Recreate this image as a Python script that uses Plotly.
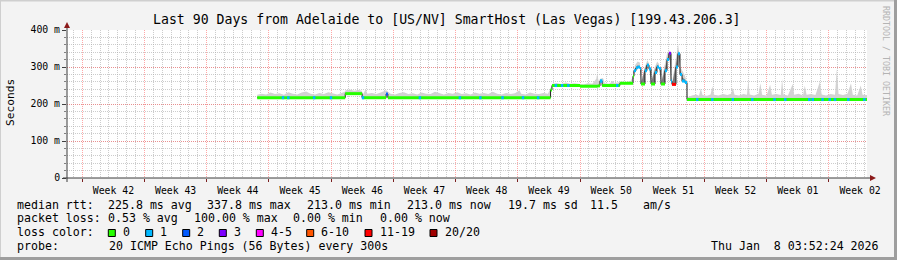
import numpy as np
import pandas as pd
import plotly.graph_objects as go

MONO = "DejaVu Sans Mono"
START = pd.Timestamp("2025-10-11 06:43:00")
SPAN_DAYS = 90
FIRST_MONDAY = "2025-10-13"

# ---- median RTT (step series): day offset from START, ms, lost pings ----
med_day = [21.4, 31.3, 33.2, 35.9, 36.1, 54.4, 54.56, 57.71, 59.7, 59.96, 60.2, 62.2,
           63.67, 63.78, 64.01, 64.23, 64.46, 64.57, 65.02, 65.24, 65.47, 65.70, 66.15,
           66.37, 66.60, 66.82, 67.27, 67.50, 67.72, 67.95, 68.06, 68.51, 68.74, 68.96,
           69.19, 69.52, 69.75, 90.0]
med_ms = [217, 228, 217, 227, 217, 238, 250, 248, 249, 262, 250, 256,
          275, 290, 298, 300, 296, 254, 290, 305, 295, 254, 285,
          300, 296, 254, 290, 320, 337, 262, 253, 300, 336, 280,
          262, 258, 212, 212]
med_loss = [0, 0, 0, 2, 0, 0, 0, 0, 0, 1, 0, 0,
            0, 1, 1, 1, 1, 0, 1, 1, 1, 0, 1,
            1, 1, 0, 1, 1, 3, 1, 12, 1, 1, 1,
            1, 1, 0, 0]

# short single-ping loss events on the flat parts (day offset)
loss1_day = [24.3, 24.9, 27.8, 29.7, 33.3, 39.7, 44.2, 46.5, 49.0, 51.3, 53.0,
             55.0, 55.7, 56.4, 60.1, 61.9,
             70.9, 72.6, 74.9, 77.1, 79.6, 80.8, 83.5, 83.9, 85.0, 85.8, 86.4, 87.9, 89.7]

# ---- smoke (upper edge of ping spread), ms ----
smoke_day = [21.4, 21.9, 22.4, 22.9, 23.4, 23.9, 24.4, 24.9, 25.4, 25.9, 26.4, 26.9, 27.4,
             27.9, 28.4, 28.9, 29.4, 29.9, 30.4, 30.9, 31.25,
             31.35, 31.8, 32.3, 32.8, 33.15,
             33.3, 33.6, 33.8, 34.3, 34.8, 35.3, 35.9, 36.4, 36.9, 37.4, 37.9, 38.4, 38.9,
             39.4, 39.9, 40.4, 40.9, 41.4, 41.9, 42.4, 42.9, 43.4, 43.9, 44.4, 44.9, 45.4,
             45.9, 46.4, 46.9, 47.4, 47.9, 48.4, 48.9, 49.4, 49.9, 50.4, 50.9, 51.1, 51.6,
             52.1, 52.6, 53.1, 53.6, 54.1, 54.4,
             54.6, 55.1, 55.6, 56.1, 56.6, 57.1, 57.6, 58.1, 58.6, 59.1, 59.55, 59.65, 59.8,
             60.0, 60.3, 60.5, 61.0, 61.4, 61.6, 62.1, 62.4, 62.9, 63.4,
             63.7, 63.9, 64.2, 64.45, 64.6, 65.0, 65.3, 65.5, 65.7, 66.1, 66.4, 66.6, 66.85,
             67.25, 67.5, 67.75, 67.95, 68.1, 68.5, 68.75, 69.0, 69.2, 69.5, 69.7,
             69.8, 70.3, 70.8, 71.1, 71.3, 71.5, 72.0, 72.4, 72.6, 72.8, 73.3, 73.8, 74.3,
             74.7, 74.9, 75.1, 75.6, 76.1, 76.5, 76.65, 76.8, 77.3, 77.8, 78.0, 78.2, 78.7,
             79.1, 79.3, 79.8, 80.3, 80.45, 80.6, 81.1, 81.65, 81.8, 82.3, 82.8, 83.0, 83.2,
             83.7, 84.2, 84.7, 84.9, 85.4, 85.9, 86.4, 86.6, 86.8, 87.3, 87.8, 88.2, 88.4,
             88.9, 89.3, 89.5, 90.0]
smoke_top = [225, 228, 226, 231, 227, 229, 225, 232, 228, 226, 231, 234, 228,
             226, 230, 227, 232, 229, 226, 230, 233,
             237, 239, 236, 238, 236,
             226, 240, 228, 230, 227, 231, 237, 228, 226, 230, 232, 227, 229,
             226, 231, 228, 227, 233, 229, 226, 230, 228, 232, 227, 229, 226,
             231, 228, 230, 227, 233, 228, 226, 230, 227, 229, 237, 228, 226,
             231, 228, 227, 230, 228, 242,
             255, 257, 254, 258, 255, 256, 254, 253, 256, 255, 268, 284, 262,
             268, 270, 256, 255, 262, 256, 258, 261, 259, 262,
             275, 305, 315, 312, 262, 300, 318, 308, 262, 298, 315, 308, 262,
             305, 335, 345, 275, 262, 320, 362, 300, 290, 278, 262,
             218, 223, 226, 222, 242, 224, 222, 226, 248, 225, 223, 227, 224,
             228, 244, 225, 223, 227, 225, 266, 226, 223, 228, 256, 225, 223,
             252, 225, 227, 224, 268, 226, 223, 254, 225, 228, 223, 250, 225,
             227, 224, 260, 226, 223, 227, 225, 295, 227, 224, 228, 256, 225,
             223, 250, 225, 224]

# dense (dark) smoke core during the unstable period
core_day = [63.7, 63.9, 64.2, 64.45, 64.6, 65.0, 65.3, 65.5, 65.7, 66.1, 66.4, 66.6, 66.85,
            67.25, 67.5, 67.75, 67.95, 68.1, 68.5, 68.75, 69.0, 69.2, 69.5, 69.7]
core_top = [262, 295, 305, 300, 257, 295, 310, 300, 257, 290, 306, 300, 257,
            296, 326, 342, 266, 257, 306, 345, 290, 272, 266, 260]

# ---- legend texts ----
stats_rtt = [("median rtt:", 16), ("225.8 ms avg", 106.6), ("337.8 ms max", 206.0),
             ("213.0 ms min", 306.0), ("213.0 ms now", 406.0), ("19.7 ms sd", 506.2),
             ("11.5", 588.8), ("am/s", 642.0)]
stats_loss = [("packet loss:", 16), ("0.53 % avg", 106.6), ("100.00 % max", 192.3),
              ("0.00 % min", 291.6), ("0.00 % now", 378.6)]
loss_labels = ["0", "1", "2", "3", "4-5", "6-10", "11-19", "20/20"]
loss_colors = ["#26ff00", "#00b8ff", "#0059ff", "#7e00ff", "#ff00ff", "#ff5500", "#ff0000", "#a10000"]
loss_sq_x = [108.3, 145.7, 182.7, 219.3, 256.3, 306.7, 365.0, 430.0]
probe_text = "20 ICMP Echo Pings (56 Bytes) every 300s"
stamp_text = "Thu Jan\u00a0\u00a08 03:52:24 2026"
title_text = "Last 90 Days from Adelaide to [US/NV] SmartHost (Las Vegas) [199.43.206.3]"

# ---------------------------------------------------------------------------
PL, PR, PT, PB = 67, 867, 30, 178
W, H = 897, 260


def px(x):
    return (x - PL) / (PR - PL)


def py(y):
    return (PB - y) / (PB - PT)


def t(d):
    return START + pd.to_timedelta(np.asarray(d, dtype=float), unit="D")


md = np.array(med_day)
mv = np.array(med_ms, dtype=float)


def med_at(d):
    i = np.searchsorted(md, d, side="right") - 1
    return mv[np.clip(i, 0, len(mv) - 1)]


def loss_class(n):
    if n <= 3:
        return n
    if n <= 5:
        return 4
    if n <= 10:
        return 5
    if n <= 19:
        return 6
    return 7


fig = go.Figure()

# smoke: lower edge = median (step), upper = smoke top
fig.add_trace(go.Scatter(x=t(med_day), y=med_ms, mode="lines", line=dict(width=0, shape="hv"),
                         hoverinfo="skip", showlegend=False))
fig.add_trace(go.Scatter(x=t(smoke_day), y=smoke_top, mode="lines", line=dict(width=0),
                         fill="tonexty", fillcolor="#d2d2d2", hoverinfo="skip", showlegend=False))

# dense core: lower edge = median within the core span
c0, c1 = core_day[0], core_day[-1]
inner = [d for d in med_day if c0 < d < c1]
low_x = [c0] + inner + [c1]
low_y = [med_at(c0)] + [med_at(d) for d in inner] + [med_at(c1)]
fig.add_trace(go.Scatter(x=t(low_x), y=low_y, mode="lines", line=dict(width=0, shape="hv"),
                         hoverinfo="skip", showlegend=False))
fig.add_trace(go.Scatter(x=t(core_day), y=core_top, mode="lines", line=dict(width=0),
                         fill="tonexty", fillcolor="#7a7a7a", hoverinfo="skip", showlegend=False))

# thin black median line
fig.add_trace(go.Scatter(x=t(med_day), y=med_ms, mode="lines",
                         line=dict(width=1, color="#202020", shape="hv"),
                         hoverinfo="skip", showlegend=False))

# thick colored median segments, by loss class
for k, col in enumerate(loss_colors):
    xs, ys = [], []
    for i in range(len(med_day) - 1):
        if loss_class(med_loss[i]) == k:
            xs += [med_day[i], med_day[i + 1], None]
            ys += [med_ms[i], med_ms[i], None]
    if k == 1:
        for d in loss1_day:
            v = med_at(d)
            xs += [d - 0.14, d + 0.14, None]
            ys += [v, v, None]
    if not xs:
        continue
    xt = [None if v is None else t(v) for v in xs]
    fig.add_trace(go.Scatter(x=xt, y=ys, mode="lines", line=dict(width=3, color=col),
                             connectgaps=False, hoverinfo="skip", showlegend=False))

grid_major = "rgba(255,95,95,0.55)"
grid_minor = "rgba(170,170,170,0.6)"

fig.update_layout(
    width=W, height=H, autosize=False,
    margin=dict(l=PL, r=W - PR, t=PT, b=H - PB, pad=0),
    paper_bgcolor="#f3f3f3", plot_bgcolor="#ffffff",
    showlegend=False,
    font=dict(family=MONO, size=10, color="#000000"),
    xaxis=dict(
        type="date",
        range=[START, START + pd.Timedelta(days=SPAN_DAYS)],
        tick0=FIRST_MONDAY, dtick=7 * 86400000,
        tickformat="Week %V", ticklabelmode="period",
        showgrid=True, gridcolor=grid_major, griddash="1px,1px", gridwidth=1,
        ticks="outside", ticklen=3, tickcolor="#7a2020",
        tickfont=dict(family=MONO, size=9.8, color="#000000"),
        showline=False, zeroline=False, fixedrange=True,
        minor=dict(dtick=86400000, tick0=FIRST_MONDAY, showgrid=True,
                   gridcolor=grid_minor, griddash="1px,1px", ticks=""),
    ),
    yaxis=dict(
        range=[0, 400],
        tickvals=[0, 100, 200, 300, 400],
        ticktext=["0", "100 m", "200 m", "300 m", "400 m"],
        showgrid=True, gridcolor=grid_major, griddash="1px,1px", gridwidth=1,
        ticks="outside", ticklen=4, tickcolor="#404040",
        tickfont=dict(family=MONO, size=9.8, color="#000000"),
        showline=False, zeroline=False, fixedrange=True,
        minor=dict(dtick=20, showgrid=True, gridcolor=grid_minor, griddash="1px,1px",
                   ticks="outside", ticklen=2, tickcolor="#808080"),
    ),
)

shapes = []
# axis lines
shapes.append(dict(type="line", xref="paper", yref="paper", x0=px(63), x1=px(872), y0=py(178), y1=py(178),
                   line=dict(color="#3a3a3a", width=1)))
shapes.append(dict(type="line", xref="paper", yref="paper", x0=px(67), x1=px(67), y0=py(182), y1=py(25),
                   line=dict(color="#3a3a3a", width=1)))
# arrows
shapes.append(dict(type="path", xref="paper", yref="paper",
                   path=f"M {px(870)},{py(175)} L {px(876)},{py(178)} L {px(870)},{py(181)} Z",
                   fillcolor="#8b1a1a", line=dict(color="#8b1a1a", width=0)))
shapes.append(dict(type="path", xref="paper", yref="paper",
                   path=f"M {px(64)},{py(28)} L {px(67)},{py(22)} L {px(70)},{py(28)} Z",
                   fillcolor="#8b1a1a", line=dict(color="#8b1a1a", width=0)))
# frame (3D border)
shapes.append(dict(type="line", xref="paper", yref="paper", x0=px(0), x1=px(0), y0=py(0), y1=py(H),
                   line=dict(color="#cfcfcf", width=2)))
shapes.append(dict(type="line", xref="paper", yref="paper", x0=px(0), x1=px(W), y0=py(0.5), y1=py(0.5),
                   line=dict(color="#cfcfcf", width=2)))
shapes.append(dict(type="line", xref="paper", yref="paper", x0=px(0), x1=px(W), y0=py(H - 1.5), y1=py(H - 1.5),
                   line=dict(color="#9e9e9e", width=3)))
shapes.append(dict(type="line", xref="paper", yref="paper", x0=px(W - 1.5), x1=px(W - 1.5), y0=py(0), y1=py(H),
                   line=dict(color="#9e9e9e", width=3)))
# loss colour swatches
for x0, col in zip(loss_sq_x, loss_colors):
    shapes.append(dict(type="rect", xref="paper", yref="paper",
                       x0=px(x0), x1=px(x0 + 7), y0=py(229.5), y1=py(236.5),
                       fillcolor=col, line=dict(color="#000000", width=1)))
fig.update_layout(shapes=shapes)


def text(s, x, y, size=11.6, anchor="left", color="#000000", angle=0, yanchor="middle"):
    fig.add_annotation(text=s, xref="paper", yref="paper", x=px(x), y=py(y),
                       xanchor=anchor, yanchor=yanchor, showarrow=False, textangle=angle,
                       font=dict(family=MONO, size=size, color=color))


text(title_text, 446.5, 19.5, size=13.2, anchor="center")
text("Seconds", 10, 103, size=11.2, anchor="center", angle=-90)
text("RRDTOOL / TOBI OETIKER", 886, 4, size=8.3, anchor="center", color="#b4b4b4", angle=90, yanchor="top")

for s, x in stats_rtt:
    text(s, x - 0.6, 204.6)
for s, x in stats_loss:
    text(s, x - 0.6, 218.4)
text("loss color:", 15.4, 232.3)
for lab, x0 in zip(loss_labels, loss_sq_x):
    text(lab, x0 + 12.5, 232.3)
text("probe:", 15.4, 246.1)
text(probe_text, 106.6, 246.1)
text(stamp_text, 881, 246.1, anchor="right")

fig.write_html("out.html")
